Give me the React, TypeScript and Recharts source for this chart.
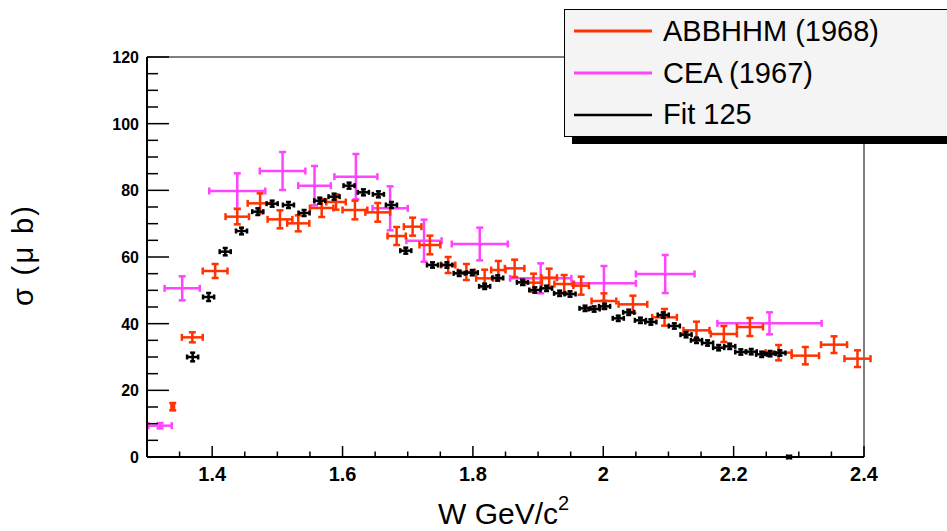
import React from "react";
import { ScatterChart, Scatter, XAxis, YAxis, ErrorBar, Legend, ReferenceLine } from "recharts";

// ---------- data ----------
// Fit 125 (black)
const fitW = [1.370, 1.3945, 1.420, 1.445, 1.470, 1.492, 1.517, 1.541, 1.565, 1.587, 1.610, 1.632, 1.655, 1.675, 1.697, 1.738, 1.760, 1.779, 1.799, 1.818, 1.838, 1.876, 1.895, 1.913, 1.933, 1.949, 1.972, 1.986, 2.002, 2.023, 2.039, 2.057, 2.073, 2.092, 2.109, 2.127, 2.143, 2.160, 2.177, 2.194, 2.211, 2.227, 2.243, 2.256, 2.271, 2.285];
const fitSigma = [30.0, 48.0, 61.6, 67.8, 73.6, 76.0, 75.6, 73.2, 76.9, 78.1, 81.4, 79.4, 78.8, 75.6, 61.9, 57.6, 57.6, 55.1, 55.3, 51.2, 53.7, 52.4, 50.1, 50.6, 49.1, 48.9, 44.6, 44.4, 45.2, 41.6, 43.4, 41.0, 40.5, 42.6, 39.3, 36.7, 35.0, 34.2, 32.8, 33.2, 31.5, 31.6, 30.8, 31.0, 31.2, 0.0];
const fitWErr = [0.0085, 0.0085, 0.0085, 0.0085, 0.0085, 0.0085, 0.0085, 0.0085, 0.0085, 0.0085, 0.0085, 0.0085, 0.0085, 0.0085, 0.0085, 0.0085, 0.0085, 0.0085, 0.0085, 0.0085, 0.0085, 0.0085, 0.0085, 0.0085, 0.0085, 0.0085, 0.0085, 0.0085, 0.0085, 0.0085, 0.0085, 0.0085, 0.0085, 0.0085, 0.0085, 0.0085, 0.0085, 0.0085, 0.0085, 0.0085, 0.0085, 0.0085, 0.0085, 0.0085, 0.0085, 0.003];
const fitSigmaErr = [1.3, 1.2, 1.1, 1.0, 1.0, 0.9, 0.9, 0.9, 0.9, 0.9, 0.9, 0.9, 0.9, 0.9, 0.9, 0.8, 0.8, 0.8, 0.8, 0.8, 0.8, 0.8, 0.8, 0.8, 0.8, 0.8, 0.8, 0.8, 0.8, 0.8, 0.8, 0.8, 0.8, 0.8, 0.8, 0.8, 0.8, 0.8, 0.8, 0.8, 0.8, 0.8, 0.8, 0.8, 0.8, 0.3];

// ABBHHM (1968) (red)
const abbW = [1.3395, 1.3695, 1.4045, 1.4385, 1.4735, 1.504, 1.532, 1.568, 1.590, 1.619, 1.654, 1.683, 1.7075, 1.734, 1.762, 1.790, 1.818, 1.839, 1.864, 1.893, 1.917, 1.940, 1.966, 2.001, 2.0455, 2.094, 2.143, 2.185, 2.225, 2.269, 2.310, 2.354, 2.390];
const abbSigma = [15.1, 35.9, 55.8, 72.1, 76.1, 71.3, 70.1, 74.7, 76.5, 74.1, 73.4, 66.3, 69.1, 63.6, 57.6, 55.5, 53.6, 56.1, 56.6, 52.3, 53.8, 51.9, 51.4, 46.8, 45.8, 41.9, 38.0, 36.9, 39.0, 31.3, 30.4, 33.7, 29.5];
const abbWErr = [0.002, 0.016, 0.019, 0.018, 0.019, 0.019, 0.017, 0.018, 0.015, 0.019, 0.019, 0.014, 0.0135, 0.016, 0.011, 0.013, 0.013, 0.011, 0.015, 0.013, 0.012, 0.015, 0.012, 0.019, 0.022, 0.019, 0.020, 0.020, 0.020, 0.020, 0.021, 0.020, 0.020];
const abbSigmaErr = [1.1, 1.5, 2.1, 2.3, 3.0, 2.7, 2.4, 2.7, 2.3, 2.8, 2.8, 2.7, 2.7, 2.8, 2.4, 2.4, 2.6, 2.7, 2.6, 2.7, 2.7, 2.7, 2.7, 2.3, 2.6, 2.5, 2.6, 2.4, 2.7, 2.3, 2.6, 2.5, 2.5];

// CEA (1967) (magenta)
const ceaW = [1.320, 1.354, 1.4385, 1.508, 1.557, 1.6205, 1.673, 1.725, 1.8105, 1.904, 2.001, 2.095, 2.255];
const ceaSigma = [9.4, 50.6, 79.8, 85.8, 81.4, 84.1, 74.6, 64.9, 63.9, 53.6, 52.1, 54.9, 40.1];
const ceaWErr = [0.018, 0.027, 0.043, 0.035, 0.025, 0.033, 0.027, 0.027, 0.043, 0.047, 0.049, 0.045, 0.080];
const ceaSigmaErr = [0.8, 3.6, 5.3, 5.7, 5.9, 6.8, 6.6, 6.3, 4.9, 4.5, 5.2, 5.7, 3.3];

const xTicks = [1.3, 1.35, 1.4, 1.45, 1.5, 1.55, 1.6, 1.65, 1.7, 1.75, 1.8, 1.85, 1.9, 1.95, 2.0, 2.05, 2.1, 2.15, 2.2, 2.25, 2.3, 2.35, 2.4];
const yTicks = [0, 5, 10, 15, 20, 25, 30, 35, 40, 45, 50, 55, 60, 65, 70, 75, 80, 85, 90, 95, 100, 105, 110, 115, 120];
const X_MIN = 1.3;
const X_MAX = 2.4;
const Y_MIN = 0;
const Y_MAX = 120;

const seriesNames = ["ABBHHM (1968)", "CEA (1967)", "Fit 125"];

// ---------- styles ----------
const RED = "#ff3300";
const MAGENTA = "#ff44ff";
const BLACK = "#000000";
const FONT = "'Liberation Sans', Arial, Helvetica, sans-serif";

const build = (w: number[], s: number[], ew: number[], es: number[]) =>
  w.map((x, i) => ({ w: x, sigma: s[i], ew: ew[i], es: es[i] }));

const fitData = build(fitW, fitSigma, fitWErr, fitSigmaErr);
const abbData = build(abbW, abbSigma, abbWErr, abbSigmaErr);
const ceaData = build(ceaW, ceaSigma, ceaWErr, ceaSigmaErr);

const XTick = (props: any) => {
  const { x, y, payload } = props;
  const v = payload.value as number;
  const major = Math.abs(v * 5 - Math.round(v * 5)) < 1e-6;
  return (
    <g>
      <line x1={x} x2={x} y1={y} y2={y - (major ? 11 : 5.5)} stroke="#000" strokeWidth={1.5} />
      {major && (
        <text x={x} y={y + 24} textAnchor="middle" fontFamily={FONT} fontWeight="bold" fontSize={20} fill="#000">
          {String(Number(v.toFixed(1)))}
        </text>
      )}
    </g>
  );
};

const YTick = (props: any) => {
  const { x, y, payload } = props;
  const v = payload.value as number;
  const major = v % 20 === 0;
  return (
    <g>
      <line x1={x} x2={x + (major ? 22 : 11)} y1={y} y2={y} stroke="#000" strokeWidth={1.5} />
      {major && (
        <text x={x - 8} y={y + 6} textAnchor="end" fontFamily={FONT} fontWeight="bold" fontSize={16} fill="#000">
          {v}
        </text>
      )}
    </g>
  );
};

const XTitle = () => (
  <text x={438} y={524} fontFamily={FONT} fontSize={30} fill="#000">
    W GeV/c
    <tspan fontSize={20} dy={-14}>2</tspan>
  </text>
);

const YTitle = () => (
  <text
    x={33}
    y={256}
    transform="rotate(-90 33 256)"
    textAnchor="middle"
    fontFamily={FONT}
    fontSize={29}
    fill="#000"
    textLength={100}
    lengthAdjust="spacing"
  >
    σ (μ b)
  </text>
);

const legendColors = [RED, MAGENTA, BLACK];
const legendWidths = [3, 3, 2.5];

const LegendBox = () => (
  <svg width={383} height={150} style={{ display: "block" }}>
    <rect x={8} y={137} width={400} height={7} fill="#000" />
    <rect x={0.5} y={9.5} width={400} height={127} fill="#f4f4f4" stroke="#000" strokeWidth={1} />
    {seriesNames.map((n, i) => (
      <g key={n}>
        <line x1={10} x2={88} y1={31 + i * 42} y2={31 + i * 42} stroke={legendColors[i]} strokeWidth={legendWidths[i]} />
        <text x={99} y={41 + i * 41.5} fontFamily={FONT} fontSize={29} fill="#000">
          {n}
        </text>
      </g>
    ))}
  </svg>
);

export default function App() {
  return (
    <div style={{ position: "absolute", left: 0, top: 0, width: 947, height: 531, background: "#fff" }}>
      <ScatterChart width={947} height={531} margin={{ top: 57, right: 83, bottom: 0, left: 0 }}>
        <XAxis
          dataKey="w"
          type="number"
          domain={[X_MIN, X_MAX]}
          allowDataOverflow
          ticks={xTicks}
          interval={0}
          height={74}
          tickSize={0}
          tickMargin={0}
          tickLine={false}
          tick={<XTick />}
          axisLine={{ stroke: "#000", strokeWidth: 2 }}
          label={() => <XTitle />}
        />
        <YAxis
          dataKey="sigma"
          type="number"
          domain={[Y_MIN, Y_MAX]}
          allowDataOverflow
          ticks={yTicks}
          interval={0}
          width={147}
          tickSize={0}
          tickMargin={0}
          tickLine={false}
          tick={<YTick />}
          axisLine={{ stroke: "#000", strokeWidth: 2 }}
          label={() => <YTitle />}
        />
        <ReferenceLine y={Y_MAX} stroke="#000" strokeWidth={1} />
        <ReferenceLine x={X_MAX} stroke="#000" strokeWidth={1} />
        <Legend
          layout="vertical"
          verticalAlign="middle"
          align="center"
          wrapperStyle={{ position: "absolute", left: 564, top: 0, width: 383, height: 150 }}
          content={() => <LegendBox />}
        />
        <Scatter name={seriesNames[1]} data={ceaData} fill={MAGENTA} isAnimationActive={false} shape={() => <g />}>
          <ErrorBar dataKey="ew" direction="x" stroke={MAGENTA} strokeWidth={2.5} width={3.5} isAnimationActive={false} />
          <ErrorBar dataKey="es" direction="y" stroke={MAGENTA} strokeWidth={2.5} width={3.5} isAnimationActive={false} />
        </Scatter>
        <Scatter name={seriesNames[0]} data={abbData} fill={RED} isAnimationActive={false} shape={() => <g />}>
          <ErrorBar dataKey="ew" direction="x" stroke={RED} strokeWidth={2.5} width={3.5} isAnimationActive={false} />
          <ErrorBar dataKey="es" direction="y" stroke={RED} strokeWidth={2.5} width={3.5} isAnimationActive={false} />
        </Scatter>
        <Scatter name={seriesNames[2]} data={fitData} fill={BLACK} isAnimationActive={false} shape={() => <g />}>
          <ErrorBar dataKey="ew" direction="x" stroke={BLACK} strokeWidth={2.5} width={2.5} isAnimationActive={false} />
          <ErrorBar dataKey="es" direction="y" stroke={BLACK} strokeWidth={2.5} width={2.5} isAnimationActive={false} />
        </Scatter>
      </ScatterChart>
    </div>
  );
}
